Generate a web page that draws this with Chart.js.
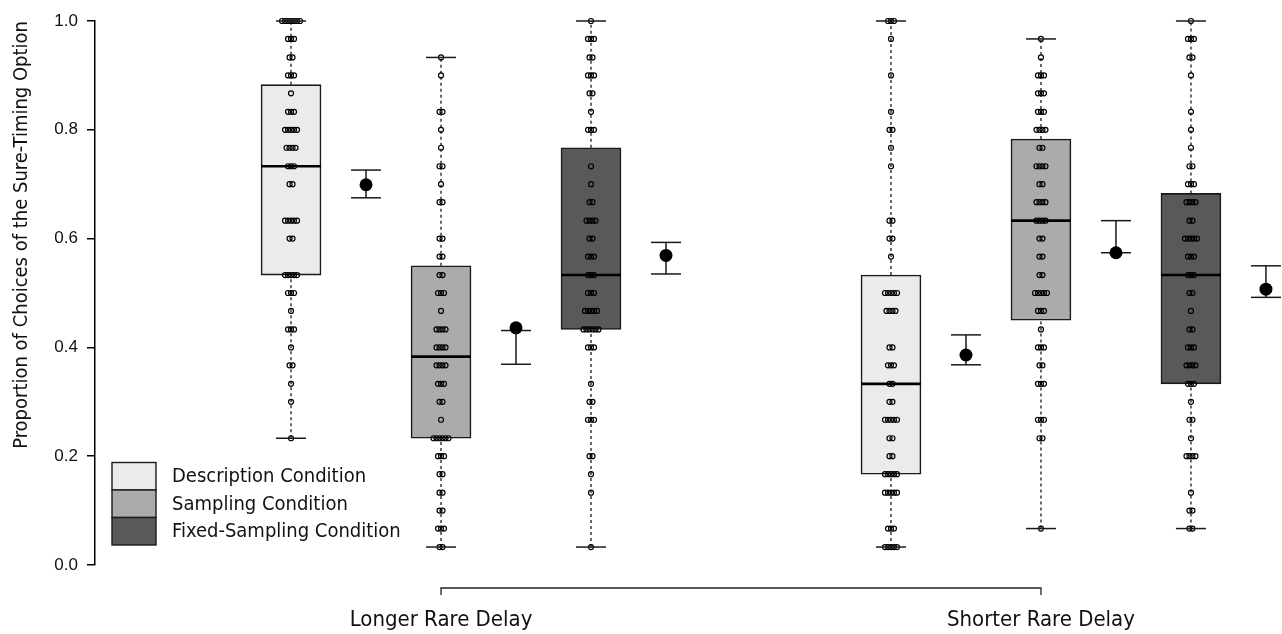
<!DOCTYPE html>
<html>
<head>
<meta charset="utf-8">
<script src="https://cdn.jsdelivr.net/npm/chart.js@4.4.0/dist/chart.umd.min.js"></script>
<style>
html, body { margin: 0; padding: 0; background: #fff; }
#wrap { position: relative; width: 1282px; height: 634px; }
</style>
</head>
<body>
<div id="wrap"><canvas id="grafico"></canvas></div>
<script>
// conditions, groups and where they sit on the x scale
var condicoes = ["Description Condition", "Sampling Condition", "Fixed-Sampling Condition"];
var coresCaixa = ["#ebebec", "#aaabad", "#58595b"];
var grupos = ["Longer Rare Delay", "Shorter Rare Delay"];
var posGrupos = [1, 5];
var posCaixas = [0, 1, 2, 4, 5, 6];
var posMedias = [0.5, 1.5, 2.5, 4.5, 5.5, 6.5];
var condDaCaixa = [0, 1, 2, 0, 1, 2];
var yTicks = [0, 0.2, 0.4, 0.6, 0.8, 1.0];

// possible proportions (out of 30 choices)
var niveis = [0, 0.033, 0.067, 0.1, 0.133, 0.167, 0.2, 0.233, 0.267, 0.3, 0.333, 0.367, 0.4, 0.433, 0.467, 0.5,
              0.533, 0.567, 0.6, 0.633, 0.667, 0.7, 0.733, 0.767, 0.8, 0.833, 0.867, 0.9, 0.933, 0.967, 1.0];

// participants at each level, one array per box (same order as posCaixas)
var contDescLonga  = [0,0,0,0,0,0,0,1,0,1,1,2,1,3,1,3,5,0,2,5,0,2,3,4,5,3,1,3,2,3,7];
var contSampLonga  = [0,2,3,2,2,2,3,6,1,2,3,4,4,4,1,3,2,2,2,0,2,1,2,1,1,2,0,1,1,0,0];
var contFixLonga   = [0,1,0,0,1,1,2,0,3,2,1,0,3,6,5,3,3,3,2,4,2,1,1,0,3,1,2,3,2,3,1];
var contDescCurta  = [0,5,3,0,5,5,2,2,5,2,2,3,2,0,4,5,0,1,2,2,0,0,1,1,2,1,0,1,0,1,3];
var contSampCurta  = [0,0,1,0,0,0,0,2,3,0,3,2,3,1,3,5,2,2,2,4,4,2,4,2,4,3,3,3,1,1,0];
var contFixCurta   = [0,0,2,2,1,0,4,1,2,1,3,4,3,2,1,2,3,3,5,2,4,3,2,1,1,1,0,1,2,3,1];

// box statistics
var minimos  = [0.233, 0.033, 0.033, 0.033, 0.067, 0.067];
var quartil1 = [0.533, 0.233, 0.433, 0.167, 0.450, 0.333];
var medianas = [0.733, 0.383, 0.533, 0.333, 0.633, 0.533];
var quartil3 = [0.883, 0.550, 0.767, 0.533, 0.783, 0.683];
var maximos  = [1.000, 0.933, 1.000, 1.000, 0.967, 1.000];

// means with their intervals
var medias = [0.699, 0.436, 0.569, 0.386, 0.574, 0.507];
var icSup  = [0.726, 0.431, 0.593, 0.423, 0.633, 0.550];
var icInf  = [0.675, 0.369, 0.535, 0.368, 0.574, 0.492];

var contagens = [contDescLonga, contSampLonga, contFixLonga, contDescCurta, contSampCurta, contFixCurta];

var fonteEstreita = "'Liberation Sans Narrow', 'Arial Narrow', 'DejaVu Sans Condensed', sans-serif";

function pontosDaCaixa(cont, xc) {
  var pts = [];
  for (var k = 0; k < cont.length; k++) {
    var n = cont[k];
    for (var i = 0; i < n; i++) {
      pts.push({ x: xc + (i - (n - 1) / 2) * 0.02, y: niveis[k] });
    }
  }
  return pts;
}

var datasets = [];

// boxes, one dataset per condition
for (var c = 0; c < condicoes.length; c++) {
  var dadosBox = [];
  for (var b = 0; b < posCaixas.length; b++) {
    if (condDaCaixa[b] === c) dadosBox.push({ x: posCaixas[b], y: [quartil1[b], quartil3[b]] });
  }
  datasets.push({
    type: "bar", label: condicoes[c], data: dadosBox,
    backgroundColor: coresCaixa[c], borderColor: "#1a1a1a", borderWidth: 1.6,
    borderSkipped: false, barThickness: 60, grouped: false, order: 6, clip: false
  });
}

// dashed whiskers, caps and medians
var bigodes = [];
var pontas = [];
var linhasMediana = [];
for (var b2 = 0; b2 < posCaixas.length; b2++) {
  var xb = posCaixas[b2];
  bigodes.push({ x: xb, y: minimos[b2] }, { x: xb, y: quartil1[b2] }, { x: xb, y: null });
  bigodes.push({ x: xb, y: quartil3[b2] }, { x: xb, y: maximos[b2] }, { x: xb, y: null });
  pontas.push({ x: xb, y: minimos[b2] }, { x: xb, y: maximos[b2] });
  linhasMediana.push({ x: xb, y: medianas[b2] });
}
datasets.push({
  type: "scatter", data: bigodes, showLine: true, spanGaps: false,
  borderColor: "#1a1a1a", borderWidth: 1.3, borderDash: [3, 3], pointRadius: 0, order: 5, clip: false
});
datasets.push({
  type: "scatter", data: linhasMediana, pointStyle: "line", pointRadius: 30,
  pointBorderWidth: 2.6, pointBorderColor: "#000", order: 4, clip: false
});

// individual participants
for (var b3 = 0; b3 < posCaixas.length; b3++) {
  datasets.push({
    type: "scatter", data: pontosDaCaixa(contagens[b3], posCaixas[b3]),
    pointRadius: 2.5, pointBorderWidth: 1.2, pointBorderColor: "#000",
    pointBackgroundColor: "rgba(0,0,0,0)", order: 3, clip: false
  });
}

datasets.push({
  type: "scatter", data: pontas, pointStyle: "line", pointRadius: 15,
  pointBorderWidth: 1.5, pointBorderColor: "#1a1a1a", order: 2, clip: false
});

// means and intervals
var barrasMedia = [];
var pontasMedia = [];
var pontosMedia = [];
for (var m = 0; m < posMedias.length; m++) {
  var xm = posMedias[m];
  barrasMedia.push({ x: xm, y: icInf[m] }, { x: xm, y: icSup[m] }, { x: xm, y: null });
  pontasMedia.push({ x: xm, y: icInf[m] }, { x: xm, y: icSup[m] });
  pontosMedia.push({ x: xm, y: medias[m] });
}
datasets.push({
  type: "scatter", data: barrasMedia, showLine: true, spanGaps: false,
  borderColor: "#1a1a1a", borderWidth: 1.5, pointRadius: 0, order: 2, clip: false
});
datasets.push({
  type: "scatter", data: pontasMedia, pointStyle: "line", pointRadius: 15,
  pointBorderWidth: 1.5, pointBorderColor: "#1a1a1a", order: 2, clip: false
});
datasets.push({
  type: "scatter", data: pontosMedia, pointRadius: 6.5, pointBorderWidth: 0,
  pointBackgroundColor: "#000", order: 1, clip: false
});

var extras = {
  id: "extras",
  afterDraw: function (chart) {
    var ctx = chart.ctx;
    var area = chart.chartArea;
    var sx = chart.scales.x;

    // bracket under the two groups
    var yb = area.bottom + 23;
    var x1 = sx.getPixelForValue(posGrupos[0]);
    var x2 = sx.getPixelForValue(posGrupos[1]);
    ctx.save();
    ctx.strokeStyle = "#222";
    ctx.lineWidth = 1.3;
    ctx.beginPath();
    ctx.moveTo(x1, yb + 7);
    ctx.lineTo(x1, yb);
    ctx.lineTo(x2, yb);
    ctx.lineTo(x2, yb + 7);
    ctx.stroke();

    // legend in the lower left corner
    var lx = area.left + 17;
    var lh = 27.5;
    var ly = area.bottom - 20 - lh * condicoes.length;
    ctx.font = "20px " + fonteEstreita;
    ctx.textBaseline = "middle";
    ctx.textAlign = "left";
    for (var i = 0; i < condicoes.length; i++) {
      ctx.fillStyle = coresCaixa[i];
      ctx.fillRect(lx, ly + i * lh, 44, lh);
      ctx.strokeStyle = "#1a1a1a";
      ctx.lineWidth = 1.4;
      ctx.strokeRect(lx, ly + i * lh, 44, lh);
      ctx.fillStyle = "#111";
      ctx.fillText(condicoes[i], lx + 60, ly + i * lh + lh / 2 + 1);
    }
    ctx.restore();
  }
};

var ctx = document.getElementById("grafico").getContext("2d");
var grafico = new Chart(ctx, {
  type: "scatter",
  data: { datasets: datasets },
  options: {
    responsive: true,
    maintainAspectRatio: false,
    animation: false,
    events: [],
    layout: { autoPadding: false, padding: { top: 21, right: 0, bottom: 0, left: 0 } },
    plugins: { legend: { display: false }, tooltip: { enabled: false } },
    scales: {
      x: {
        type: "linear", min: -1.307, max: 6.607, offset: false,
        grid: { display: false }, border: { display: false },
        afterBuildTicks: function (scale) {
          scale.ticks = posGrupos.map(function (v) { return { value: v }; });
        },
        afterFit: function (scale) { scale.height = 69; },
        ticks: {
          autoSkip: false, maxRotation: 0, padding: 34, color: "#111",
          font: { family: fonteEstreita, size: 22 },
          callback: function (v) { return grupos[posGrupos.indexOf(v)]; }
        }
      },
      y: {
        min: 0, max: 1,
        afterBuildTicks: function (scale) {
          scale.ticks = yTicks.map(function (v) { return { value: v }; });
        },
        afterFit: function (scale) { scale.width = 95; },
        grid: { drawOnChartArea: false, drawTicks: true, tickLength: 8, color: "#000", lineWidth: 1.5 },
        border: { display: true, color: "#000", width: 1.5 },
        ticks: {
          padding: 9, color: "#111",
          font: { family: "'Liberation Sans', Arial, sans-serif", size: 17 },
          callback: function (v) { return Number(v).toFixed(1); }
        },
        title: {
          display: true, text: "Proportion of Choices of the Sure-Timing Option",
          align: "end", color: "#111", padding: { top: 10, bottom: 0 },
          font: { family: fonteEstreita, size: 20 }
        }
      }
    }
  },
  plugins: [extras]
});
</script>
</body>
</html>
